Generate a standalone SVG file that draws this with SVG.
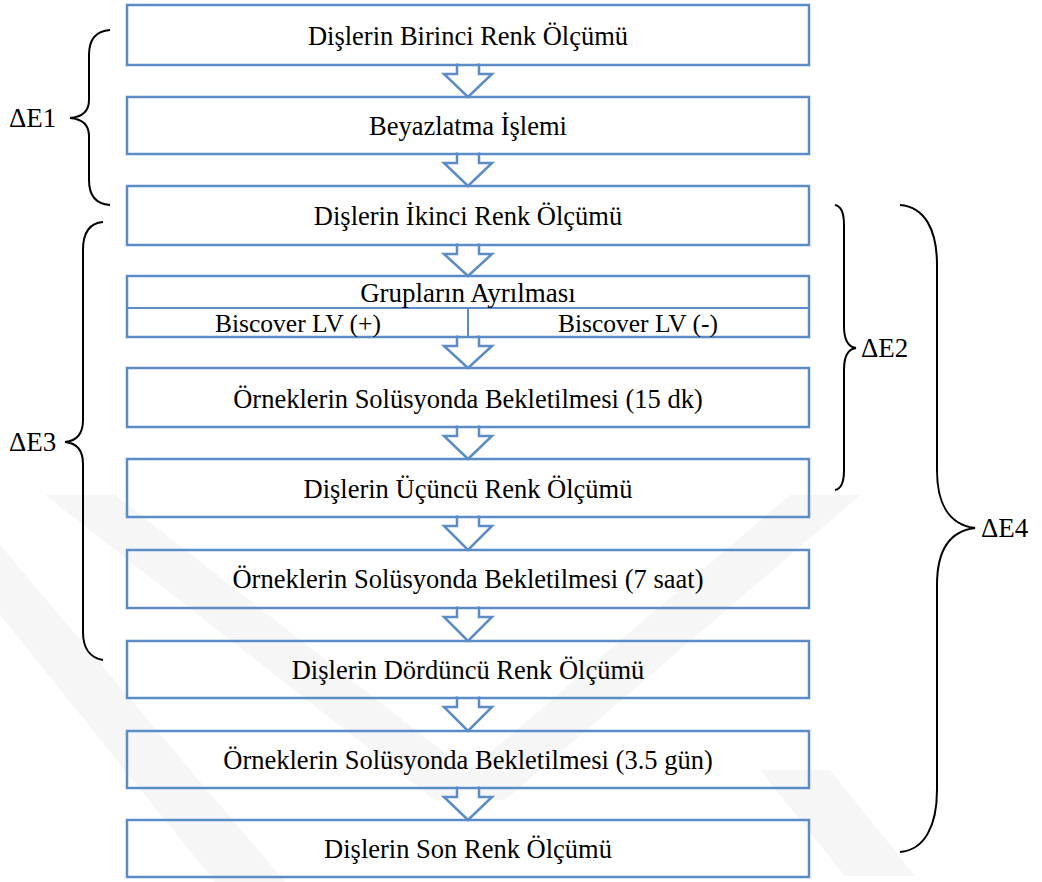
<svg xmlns="http://www.w3.org/2000/svg" width="1042" height="882" viewBox="0 0 1042 882">
<style>
.box{fill:none;stroke:#5b8cc6;stroke-width:2.5}
.div{fill:none;stroke:#5b8cc6;stroke-width:2}
.arr{fill:#ffffff;stroke:#5b8cc6;stroke-width:2.5;stroke-linejoin:miter}
.br{fill:none;stroke:#000;stroke-width:2}
.wm{fill:#f6f6f6}
</style>
<g id="watermark">
<polygon class="wm" points="45,495 115,495 505,800 435,800"/>
<polygon class="wm" points="790,495 860,495 505,800 435,800"/>
<polygon class="wm" points="0,545 0,615 215,882 285,882"/>
<polygon class="wm" points="760,770 830,770 915,876 845,876"/>
</g>
<g id="connectors">
<path class="arr" d="M457,63.5 L457,74 L444,74 L468,97 L492,74 L479,74 L479,63.5"/>
<path class="arr" d="M457,152.5 L457,163 L444,163 L468,186 L492,163 L479,163 L479,152.5"/>
<path class="arr" d="M457,243.5 L457,254 L444,254 L468,276 L492,254 L479,254 L479,243.5"/>
<path class="arr" d="M457,335.5 L457,346 L444,346 L468,368 L492,346 L479,346 L479,335.5"/>
<path class="arr" d="M457,425.5 L457,436 L444,436 L468,459 L492,436 L479,436 L479,425.5"/>
<path class="arr" d="M457,515.5 L457,526 L444,526 L468,550 L492,526 L479,526 L479,515.5"/>
<path class="arr" d="M457,606.5 L457,617 L444,617 L468,641 L492,617 L479,617 L479,606.5"/>
<path class="arr" d="M457,696.5 L457,707 L444,707 L468,731 L492,707 L479,707 L479,696.5"/>
<path class="arr" d="M457,786.5 L457,797 L444,797 L468,820 L492,797 L479,797 L479,786.5"/>
</g>
<g font-family="'Liberation Serif', 'Times New Roman', serif" font-size="26.5" fill="#000" text-anchor="middle">
<g id="n1"><rect class="box" x="127" y="5" width="682" height="60"/><text x="468" y="45">Dişlerin Birinci Renk Ölçümü</text></g>
<g id="n2"><rect class="box" x="127" y="97" width="682" height="57"/><text x="468" y="135">Beyazlatma İşlemi</text></g>
<g id="n3"><rect class="box" x="127" y="186" width="682" height="59"/><text x="468" y="225">Dişlerin İkinci Renk Ölçümü</text></g>
<g id="n4"><rect class="box" x="127" y="276" width="682" height="61"/><line class="div" x1="127" y1="308" x2="809" y2="308"/><line class="div" x1="468" y1="308" x2="468" y2="337"/><text x="468" y="302" font-size="27">Grupların Ayrılması</text><text x="298" y="332" font-size="25.5">Biscover LV (+)</text><text x="638" y="332" font-size="25.5">Biscover LV (-)</text></g>
<g id="n5"><rect class="box" x="127" y="368" width="682" height="59"/><text x="468" y="408">Örneklerin Solüsyonda Bekletilmesi (15 dk)</text></g>
<g id="n6"><rect class="box" x="127" y="459" width="682" height="58"/><text x="468" y="498">Dişlerin Üçüncü Renk Ölçümü</text></g>
<g id="n7"><rect class="box" x="127" y="550" width="682" height="58"/><text x="468" y="588">Örneklerin Solüsyonda Bekletilmesi (7 saat)</text></g>
<g id="n8"><rect class="box" x="127" y="641" width="682" height="57"/><text x="468" y="679">Dişlerin Dördüncü Renk Ölçümü</text></g>
<g id="n9"><rect class="box" x="127" y="731" width="682" height="57"/><text x="468" y="769">Örneklerin Solüsyonda Bekletilmesi (3.5 gün)</text></g>
<g id="n10"><rect class="box" x="127" y="820" width="682" height="57"/><text x="468" y="858">Dişlerin Son Renk Ölçümü</text></g>
</g>
<g id="braces">
<path class="br" d="M110,30 C95,31 89,40 89,55 L89,100 C89,112 82,117 70,118 C82,119 89,124 89,136 L89,180 C89,195 95,204 110,205"/>
<path class="br" d="M103,222 C90,223 83,232 83,250 L83,420 C83,435 76,441 65,442 C76,443 83,449 83,464 L83,632 C83,648 90,658 103,660"/>
<path class="br" d="M835,205 C841,206 844,212 844,225 L844,326 C844,340 848,347 856,348 C848,349 844,356 844,370 L844,470 C844,483 841,489 835,490"/>
<path class="br" d="M900,205 C925,207 937,230 937,265 L937,470 C937,505 950,525 975,528 C950,531 937,550 937,585 L937,790 C937,825 925,850 900,852"/>
</g>
<g id="labels" font-family="'Liberation Serif', 'Times New Roman', serif" font-size="27" fill="#000">
<text x="9" y="127">ΔE1</text>
<text x="9" y="451">ΔE3</text>
<text x="861" y="357">ΔE2</text>
<text x="981" y="537">ΔE4</text>
</g>
</svg>
